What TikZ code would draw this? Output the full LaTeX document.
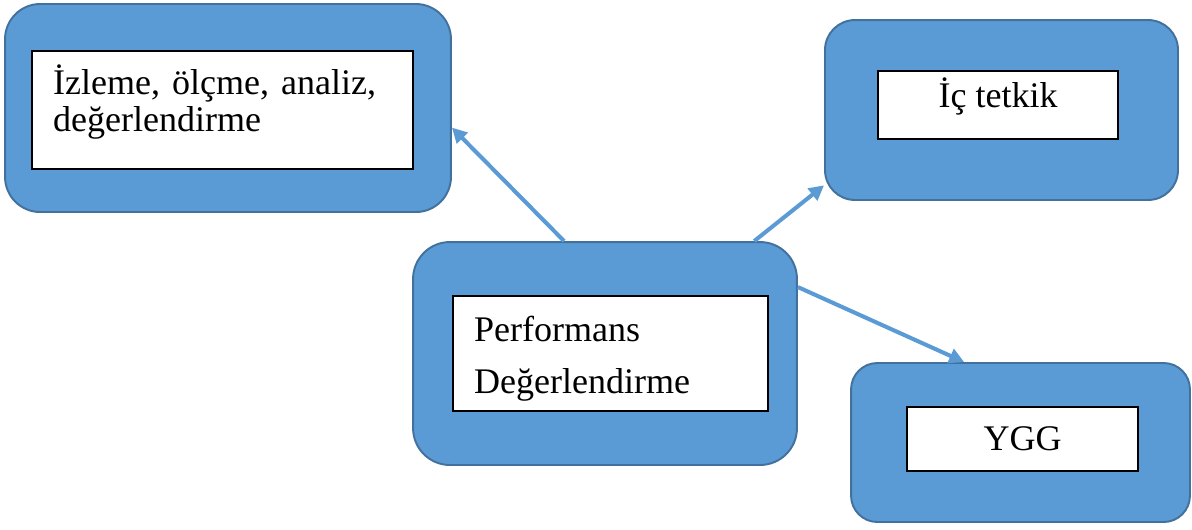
\documentclass[tikz,border=0pt]{standalone}
\usepackage{fontspec}
\setmainfont{Liberation Serif}
\usepackage{tikz}
\usetikzlibrary{positioning,arrows.meta}
\definecolor{boxblue}{HTML}{5B9BD5}
\definecolor{boxedge}{HTML}{41719C}

\begin{document}
\begin{tikzpicture}[x=0.02cm,y=-0.02cm,
    outerbox/.style={draw=boxedge,fill=boxblue,line width=1.1pt,inner sep=0pt},
    innerbox/.style={draw=black,fill=white,line width=0.85pt,inner ysep=0pt,
      font=\fontsize{20.5}{20.9}\selectfont},
    link/.style={-{Triangle[length=8.5pt,width=8.5pt]},draw=boxblue,line width=2.3pt}]

    \useasboundingbox (0,0) rectangle (1192,529);

    \node[outerbox, rounded corners=20pt, minimum width=253.8pt, minimum height=118.4pt] (A) at (228,108) {};
    \node[outerbox, rounded corners=17pt, minimum width=200.9pt, minimum height=102.4pt] (B) at (1001.5,110) {};
    \node[outerbox, rounded corners=21pt, minimum width=218.5pt, minimum height=126.9pt] (C) at (605,353.5) {};
    \node[outerbox, rounded corners=15pt, minimum width=192.9pt, minimum height=90.5pt] (D) at (1020.5,442.5) {};

    \node[innerbox, inner xsep=12pt, text width=192.8pt, align=left, minimum height=67.1pt,
      text height=15pt, text depth=32.1pt] (a) at (222.5,110)
      {İzleme, ölçme, analiz,\\ değerlendirme};
    \node[innerbox, inner xsep=0pt, align=center, minimum width=136.6pt, minimum height=38.7pt,
      text height=12pt, text depth=9.7pt] (b) at (998,105)
      {İç tetkik};
    \node[innerbox, inner xsep=12pt, text width=155.3pt, align=left, minimum height=65.4pt,
      text height=15pt, text depth=29.2pt, font=\fontsize{20.5}{29.6}\selectfont] (c) at (610.5,353.5)
      {Performans\\ Değerlendirme};
    \node[innerbox, inner xsep=0pt, align=center, minimum width=131.5pt, minimum height=36.4pt] (d) at (1022.5,439)
      {YGG};

    \draw[link] (C.110.6) -- (A.-5.6);
    \draw[link] (C.37.2) -- (B.203.1);
    \draw[link] (C.19.1) -- (D.125.5);
  \end{tikzpicture}
\end{document}
